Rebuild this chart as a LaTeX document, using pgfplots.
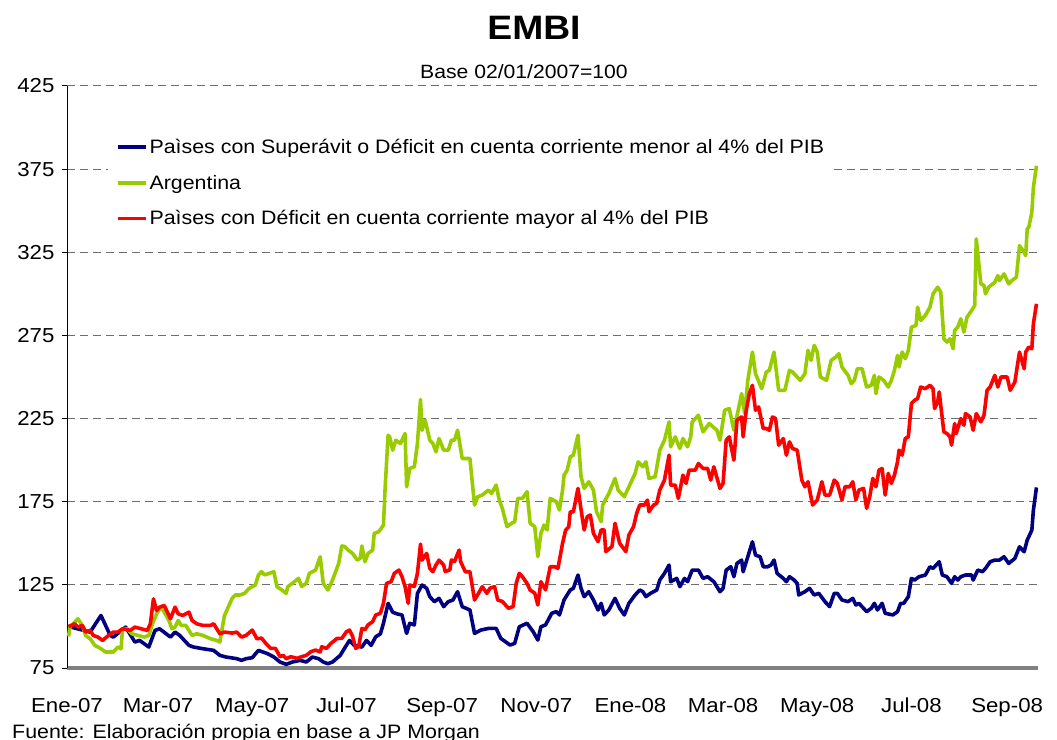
\documentclass[border=0pt]{standalone}
\usepackage{fontspec}
\setmainfont{Liberation Sans}[FakeStretch=1.1]
\usepackage{pgfplots}
\usepackage{pgfplotstable}
\pgfplotsset{compat=1.18}
\definecolor{embinavy}{RGB}{0,0,128}
\definecolor{embigreen}{RGB}{153,204,0}
\definecolor{embired}{RGB}{255,0,0}
\definecolor{gridgray}{RGB}{110,110,110}

% day (since 01/01/2007)  value
\pgfplotstableread{
d v
1 100
15 96.6
22 106.6
28 94.6
30 93.6
38 99.6
44 90.6
47 91.6
53 87.6
57 97.6
60 98.6
67 93.6
70 96.6
73 94.6
79 88.6
82 87.6
88 86.6
95 85.6
99 82.6
103 81.6
110 80.6
113 79.6
116 80.6
120 81.2
124 85.6
127 84.6
130 83.6
134 81.6
138 78.6
142 77.2
146 78.6
151 79.6
155 78.6
159 81.6
163 80.6
166 78.6
169 77.6
172 78.6
177 82.6
180 87.2
183 91.6
186 88.6
191 87.6
194 91.6
197 88.6
200 93.8
203 95.5
205 101.9
208 113.9
211 108.5
214 107.5
217 106.9
220 95.8
222 101.9
225 100.9
227 119.9
230 124.9
233 122.9
235 117.9
238 114.9
241 116.9
244 111.9
247 114.9
250 115.9
253 120.9
256 111.9
261 109.9
264 95.8
268 97.8
273 98.8
278 98.8
281 92.8
287 88.8
290 89.8
293 99.8
298 101.9
302 96.8
305 91.8
307 99.8
310 100.9
314 107.9
317 108.9
319 106.9
322 116
326 121.9
328 122.9
331 130.9
333 122.9
335 117.9
338 120.9
341 115.9
344 109.9
346 113.9
348 106.9
351 109.9
355 116.9
358 110.9
361 106.9
364 113.9
368 118.9
371 121.9
373 120.9
375 117.9
378 119.9
382 121.9
384 127.9
387 131.9
390 136.9
391 126.9
395 128.9
397 123.9
400 128.9
402 126.9
405 133.9
409 133.9
412 128.9
415 129.9
419 126.9
423 120.9
425 122.9
427 133.9
430 135.9
432 129.9
434 137.9
437 139.9
438 132.9
441 141.9
444 150.9
446 142.9
449 141.9
451 135.9
454 135.9
456 136.9
458 139.9
460 131.9
464 128.9
466 126.9
468 129.9
471 127.9
473 125.9
474 118.9
478 120.9
481 122.9
484 118.9
487 119.9
491 114.9
494 111.9
497 119.9
499 119.9
502 115.9
506 114.9
509 116.9
511 112.9
513 113.9
518 108.9
521 110.9
523 113.9
525 109.9
528 113.9
530 107.9
535 106.9
538 108.9
540 113.9
542 113.9
545 117.9
547 128.9
549 127.9
552 129.9
556 130.9
559 135.9
561 134.9
563 136.9
565 138.9
567 130.9
570 129.9
573 125.9
575 129.9
577 127.9
579 129.9
582 130.9
586 130.9
587 127.9
590 133.9
593 132.9
595 134.9
598 138.9
601 139.9
604 139.9
607 141.9
610 137.9
614 140.9
617 147.9
619 145.9
620 144.9
622 151.9
623 153.9
625 157.9
626 169.9
628 183.6
}\bluedata

\pgfplotstableread{
d v
1 94
2 100
4 101.6
7 104.6
10 100.6
12 94.6
15 92.6
18 88.6
21 87.2
25 84.6
30 84.6
33 87.6
35 86.6
36 98.6
39 98.6
42 95.6
46 94.6
50 93.6
53 94.6
55 100.6
58 107.6
61 111.6
63 108.6
66 103.6
68 98.6
70 99.6
72 103.6
74 100.6
77 100.6
81 94.6
84 95.6
88 94.6
93 92.6
97 91.6
99 90.6
102 106.6
103 108.6
107 116.9
109 118.9
112 118.9
115 119.9
118 122.9
122 124.9
124 130.9
126 132.9
128 131
131 131.9
134 132.9
136 123.9
139 122
142 119.9
143 123.9
146 125.9
150 128.9
152 124
155 126
157 131.9
161 133.9
164 141.9
166 125.9
169 121.9
172 127.9
176 137.9
178 148.4
180 148
182 146
185 143.9
188 139.9
190 141
191 148.4
193 138.9
195 143.9
198 145.9
199 155.9
202 157
205 160.9
206 182
208 215
209 214
211 206
213 212
216 210
219 216
220 184
222 195
225 196
227 210
229 236.5
230 218
232 224
235 212
237 210
239 205
241 213
244 206
247 206
249 212
251 212
253 218
256 201
261 201
264 173
266 178
269 179
273 182
275 180
278 185
280 176
282 171
285 160
288 162
290 163
292 177
295 177
298 181
300 162
303 160
305 142
307 156
309 161
311 158
313 177
317 175
319 170
321 182
322 191
324 194
326 202
328 203
331 215
333 190
335 183
338 187
341 182
343 169
346 163
347 173
351 180
355 189
357 182
361 178
364 184
368 192
370 199
373 196
375 199
377 189
381 190
384 206
387 212
390 223
391 208
394 214
397 207
399 213
402 208
404 214
405 223
409 227
412 217
416 222
421 218
423 212
426 230
429 231
432 218
435 231
437 240
439 228
441 248
444 265
446 252
450 243
453 253
455 254
458 265
461 242
465 242
468 254
470 253
473 250
475 248
478 252
480 266
482 260
484 269
486 265
488 250
492 248
495 260
498 262
500 264
502 256
506 251
508 246
510 248
512 255
515 255
518 244
521 245
523 251
524 240
526 250
529 248
532 244
534 248
536 254
538 263
539 256
541 265
543 261
545 266
547 280
550 281
551 292
553 284
556 287
559 292
561 300
564 304
566 301
568 273
570 271
572 273
574 267
575 278
577 280
579 285
581 277
583 286
586 290
588 293
589 333
592 306
594 305
595 300
597 304
601 307
603 311
604 308
607 312
610 306
612 308
615 310
617 329
620 325
621 323
622 339
623 340
625 349
626 364
628 377
}\greendata

\pgfplotstableread{
d v
1 100
3 100.6
5 101.6
7 99.6
10 100.6
12 96.6
15 97.6
17 94.6
20 93.6
23 91.6
27 94.6
30 96.6
33 96.6
36 98.6
41 97.6
44 99.6
48 98.6
52 97.6
54 101.6
56 116.6
58 109.6
60 111.6
63 112.6
67 104.6
70 111.6
72 107.6
75 106.6
79 108.6
81 103.6
84 101.6
88 100.6
93 100.6
95 101.6
97 98.6
99 95.6
102 96.6
107 96
110 96.6
113 93.6
116 94.6
120 97.8
123 92.6
126 93
129 89.6
132 86.8
135 86.8
138 81.8
140 82.6
142 80.6
145 81.8
149 80.8
152 81.8
155 82.6
158 84.8
161 85.8
164 84.6
165 87.8
168 86.8
171 89.8
175 92.8
178 92.8
181 96.8
183 97.8
185 94
187 86.8
189 88
191 98.8
193 98
195 100.9
198 102.9
200 106.9
203 107.9
205 113.9
207 125.9
210 126.9
212 131.9
215 133.9
217 129.9
219 123.9
221 113.9
222 124.9
225 124
227 131.9
229 149.5
230 139.9
233 143.9
235 134.9
237 132.9
239 136.9
241 139.9
244 136.9
245 133
248 134
249 139.9
251 139
254 145.9
255 138.9
258 132.9
261 132.9
264 115.9
266 119
269 123.9
272 119.9
274 123
277 123.9
279 115.9
282 115
286 110.9
289 112
291 125.9
293 131.9
295 129.9
298 125.9
300 121.9
303 120
305 112.9
307 126.9
310 122
313 135.9
316 135.9
318 134.9
321 149.9
323 157.9
325 159.9
326 168.9
328 168.9
331 183
334 164
335 158
337 166
339 167
341 156
344 151
346 158
348 158
349 145
353 148
355 162
358 150
362 145
364 155
367 160
369 168
371 173
374 173
376 176
377 169
380 173
382 174
384 182
387 188
390 203
391 185
394 185
396 177
399 191
401 186
403 194
407 194
409 198
412 195
415 195
417 188
419 196
423 183
425 186
427 212
429 214
432 200
434 224
437 226
438 214
440 230
442 240
444 245
446 230
448 232
451 219
453 219
455 218
457 226
459 225
461 209
464 213
466 203
468 211
470 207
473 206
476 188
478 184
480 187
483 173
486 176
489 187
491 179
494 179
497 188
499 186
502 176
504 184
507 184
509 187
511 176
513 182
516 183
518 171
520 178
522 189
524 184
526 194
528 195
530 179
532 192
534 186
536 191
538 199
539 206
541 203
543 213
545 214
547 234
549 236
551 237
553 244
556 243
559 245
561 243
562 231
564 235
565 241
568 217
570 216
572 214
573 209
575 222
576 216
579 225
581 221
582 228
585 226
587 218
589 228
592 223
594 227
596 242
598 244
601 251
603 244
605 250
609 250
611 242
614 247
617 265
620 255
621 265
623 268
625 267
626 282
628 294
}\reddata

\begin{document}
\begin{tikzpicture}
\path[use as bounding box] (0,0) rectangle (1057bp,740bp);
\begin{axis}[
  at={(67bp,72bp)}, anchor=south west,
  scale only axis,
  width=971bp, height=582bp,
  xmin=0, xmax=629,
  ymin=75, ymax=425,
  xtick={0,59,120,181,243,304,365,425,486,547,609},
  xticklabels={Ene-07,Mar-07,May-07,Jul-07,Sep-07,Nov-07,Ene-08,Mar-08,May-08,Jul-08,Sep-08},
  ytick={75,125,175,225,275,325,375,425},
  /pgf/number format/assume math mode=true,
  ticklabel style={font=\fontsize{20.3}{22}\selectfont},
  xticklabel style={anchor=base, yshift=-39bp},
  yticklabel style={xshift=-4bp},
  separate axis lines,
  axis x line*=bottom,
  axis y line*=left,
  x axis line style={-, draw=gray, line width=3bp},
  y axis line style={-, draw=black, line width=1bp},
  xtick style={draw=none},
  ytick style={draw=black, line width=1bp},
  tick align=outside,
  major tick length=5bp,
  ymajorgrids,
  major grid style={gridgray, line width=1bp, dash pattern=on 8bp off 5bp},
  legend style={at={(0.042,0.919)}, anchor=north west, draw=none, fill=white,
    font=\fontsize{19.5}{21}\selectfont, row sep=16bp, inner xsep=8bp, inner ysep=4bp},
  legend cell align=left,
  legend image code/.code={\draw[#1] (0bp,0bp) -- (28bp,0bp);},
]
\addplot[embinavy, line width=3.6bp, line join=round] table[x=d, y=v] {\bluedata};
\addlegendentry{Paìses con Superávit o Déficit en cuenta corriente menor al 4\% del PIB}
\addplot[embigreen, line width=3.6bp, line join=round] table[x=d, y=v] {\greendata};
\addlegendentry{Argentina}
\addplot[embired, line width=3.6bp, line join=round] table[x=d, y=v] {\reddata};
\addlegendentry{Paìses con Déficit en cuenta corriente mayor al 4\% del PIB}
\end{axis}
\node[font=\fontsize{34}{38}\selectfont\bfseries] at (534bp,712bp) {EMBI};
\node[font=\fontsize{19.3}{21}\selectfont] at (524bp,668bp) {Base 02/01/2007=100};
\node[font=\fontsize{19.5}{21}\selectfont, anchor=base west, inner sep=0pt] at (12bp,2bp) {Fuente: Elaboración propia en base a JP Morgan};
\end{tikzpicture}
\end{document}
